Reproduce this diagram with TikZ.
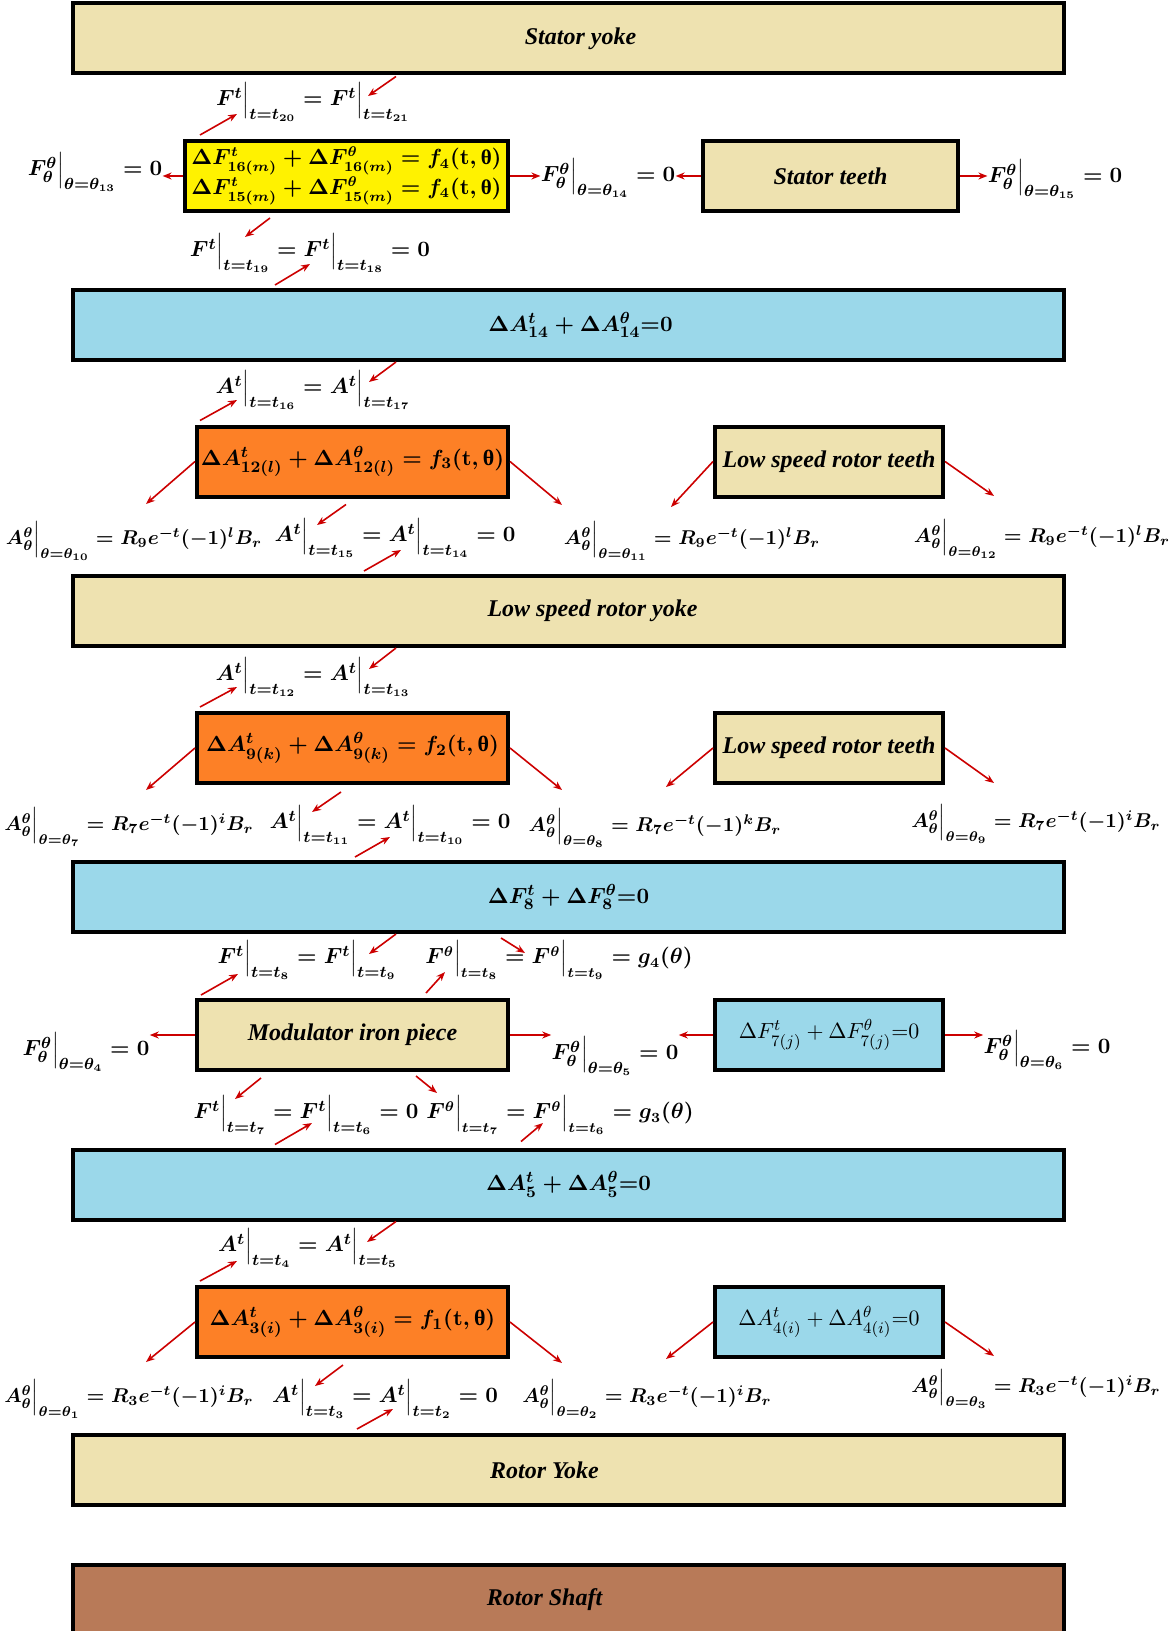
\documentclass[tikz,border=0pt]{standalone}
\usepackage[no-math]{fontspec}
\usepackage{tikz}
\usetikzlibrary{arrows.meta,positioning,calc}
\newfontfamily\libfont{Liberation Serif}
\definecolor{partTan}{HTML}{EEE2B0}
\definecolor{partBlue}{HTML}{9BD8EA}
\definecolor{partOrange}{HTML}{FD8026}
\definecolor{partYellow}{HTML}{FFF200}
\definecolor{partBrown}{HTML}{B87A58}
\definecolor{arrRed}{HTML}{CC0000}
\newcommand{\ev}[2]{{#1}\Bigr|_{#2}}
\newcommand{\upth}{\mbox{\libfont\bfseries θ}}
\newcommand{\eqfont}{\fontsize{11}{13}\selectfont\boldmath}

\begin{document}
\begin{tikzpicture}[x=0.5pt, y=-0.5pt,
      part/.style={draw, line width=2pt, inner sep=0pt, minimum height=35pt,
                   font=\fontsize{12}{14}\selectfont\libfont\bfseries\itshape},
      wide/.style={part, minimum width=495.5pt},
      inbox/.style={part, minimum width=155.5pt},
      sidebox/.style={part, minimum width=114pt},
      eq/.style={inner sep=0pt, font=\eqfont},
      eqr/.style={inner sep=0pt, font=\fontsize{10}{12}\selectfont\boldmath},
      eqg/.style={inner sep=0pt, font=\fontsize{10.5}{12}\selectfont\boldmath},
      arr/.style={-{Stealth[length=4.5pt,width=3.5pt]}, line width=0.8pt, arrRed}
    ]
      \useasboundingbox (0,0) rectangle (1172,1631);

      \node[wide, fill=partTan] (syoke) at (568.5,38.5) {\hspace*{12pt}Stator yoke};
      \node[part, fill=partYellow, minimum width=161.5pt, align=center,
            font=\fontsize{10.5}{13}\selectfont\boldmath] (yel) at (346.5,176) {
        $\Delta F^{t}_{16(m)} + \Delta F^{\theta}_{16(m)} = f_{4}(\mathrm{t},\upth)$\\
        $\Delta F^{t}_{15(m)} + \Delta F^{\theta}_{15(m)} = f_{4}(\mathrm{t},\upth)$
      };
      \node[part, fill=partTan, minimum width=127.5pt] (steeth) at (830.5,176) {Stator teeth};
      \node[wide, fill=partBlue, font=\eqfont] (b14) at (568.5,325) {\hspace*{12pt}$\Delta A^{t}_{14} + \Delta A^{\theta}_{14}{=}0$};
      \node[inbox, fill=partOrange, font=\eqfont] (or3) at (352.5,461.5) {$\Delta A^{t}_{12(l)} + \Delta A^{\theta}_{12(l)} = f_{3}(\mathrm{t},\upth)$};
      \node[sidebox, fill=partTan] (lsrt1) at (829,461.5) {Low speed rotor teeth};
      \node[wide, fill=partTan] (lsry) at (568.5,611) {\hspace*{24pt}Low speed rotor yoke};
      \node[inbox, fill=partOrange, font=\eqfont] (or2) at (352.5,748) {$\Delta A^{t}_{9(k)} + \Delta A^{\theta}_{9(k)} = f_{2}(\mathrm{t},\upth)$};
      \node[sidebox, fill=partTan] (lsrt2) at (829,748) {Low speed rotor teeth};
      \node[wide, fill=partBlue, font=\eqfont] (b8) at (568.5,897) {$\Delta F^{t}_{8} + \Delta F^{\theta}_{8}{=}0$};
      \node[inbox, fill=partTan] (mod) at (352.5,1035) {Modulator iron piece};
      \node[sidebox, fill=partBlue, font=\fontsize{11}{13}\selectfont] (f7) at (829,1035) {$\Delta F^{t}_{7(j)} + \Delta F^{\theta}_{7(j)}{=}0$};
      \node[wide, fill=partBlue, font=\eqfont] (b5) at (568.5,1184.5) {$\Delta A^{t}_{5} + \Delta A^{\theta}_{5}{=}0$};
      \node[inbox, fill=partOrange, font=\eqfont] (or1) at (352.5,1322) {$\Delta A^{t}_{3(i)} + \Delta A^{\theta}_{3(i)} = f_{1}(\mathrm{t},\upth)$};
      \node[sidebox, fill=partBlue, font=\fontsize{11}{13}\selectfont] (a4) at (829,1322) {$\Delta A^{t}_{4(i)} + \Delta A^{\theta}_{4(i)}{=}0$};
      \node[wide, fill=partTan] (ryoke) at (568.5,1470) {Rotor Yoke\hspace*{24pt}};
      \node[wide, fill=partBrown] (shaft) at (568.5,1600) {Rotor Shaft\hspace*{24pt}};

      \node[eq] (l20) at (313,102) {$\ev{F^{t}}{t=t_{20}} = \ev{F^{t}}{t=t_{21}}$};
      \node[eq] (l13) at (95,172) {$\ev{F^{\theta}_{\theta}}{\theta=\theta_{13}} = 0$};
      \node[eq] (l14) at (608,178) {$\ev{F^{\theta}_{\theta}}{\theta=\theta_{14}} = 0$};
      \node[eq] (l15) at (1055,179) {$\ev{F^{\theta}_{\theta}}{\theta=\theta_{15}} = 0$};
      \node[eq] (l19) at (310,253) {$\ev{F^{t}}{t=t_{19}} = \ev{F^{t}}{t=t_{18}} = 0$};

      \node[eq] (l16) at (313,390) {$\ev{A^{t}}{t=t_{16}} = \ev{A^{t}}{t=t_{17}}$};
      \node[eqr] (l10) at (134,541) {$\ev{A^{\theta}_{\theta}}{\theta=\theta_{10}} = R_{9}e^{-t}(-1)^{l}B_{r}$};
      \node[eq] (l14t) at (395,538) {$\ev{A^{t}}{t=t_{15}} = \ev{A^{t}}{t=t_{14}} = 0$};
      \node[eqr] (l11) at (692,541) {$\ev{A^{\theta}_{\theta}}{\theta=\theta_{11}} = R_{9}e^{-t}(-1)^{l}B_{r}$};
      \node[eqr] (l12) at (1042,539) {$\ev{A^{\theta}_{\theta}}{\theta=\theta_{12}} = R_{9}e^{-t}(-1)^{l}B_{r}$};

      \node[eq] (l12t) at (313,677) {$\ev{A^{t}}{t=t_{12}} = \ev{A^{t}}{t=t_{13}}$};
      \node[eqr] (l7) at (129,827) {$\ev{A^{\theta}_{\theta}}{\theta=\theta_{7}} = R_{7}e^{-t}(-1)^{i}B_{r}$};
      \node[eq] (l10t) at (390,825) {$\ev{A^{t}}{t=t_{11}} = \ev{A^{t}}{t=t_{10}} = 0$};
      \node[eqr] (l8) at (655,828) {$\ev{A^{\theta}_{\theta}}{\theta=\theta_{8}} = R_{7}e^{-t}(-1)^{k}B_{r}$};
      \node[eqr] (l9) at (1036,824) {$\ev{A^{\theta}_{\theta}}{\theta=\theta_{9}} = R_{7}e^{-t}(-1)^{i}B_{r}$};

      \node[eq] (l8t) at (307,960) {$\ev{F^{t}}{t=t_{8}} = \ev{F^{t}}{t=t_{9}}$};
      \node[eqg] (l8g) at (559,960) {$\ev{F^{\theta}}{t=t_{8}} = \ev{F^{\theta}}{t=t_{9}} = g_{4}(\theta)$};
      \node[eq] (l4) at (86,1052) {$\ev{F^{\theta}_{\theta}}{\theta=\theta_{4}} = 0$};
      \node[eq] (l5) at (615,1056) {$\ev{F^{\theta}_{\theta}}{\theta=\theta_{5}} = 0$};
      \node[eq] (l6) at (1047,1050) {$\ev{F^{\theta}_{\theta}}{\theta=\theta_{6}} = 0$};
      \node[eq] (l6t) at (306,1115) {$\ev{F^{t}}{t=t_{7}} = \ev{F^{t}}{t=t_{6}} = 0$};
      \node[eqg] (l6g) at (560,1115) {$\ev{F^{\theta}}{t=t_{7}} = \ev{F^{\theta}}{t=t_{6}} = g_{3}(\theta)$};

      \node[eq] (l4t) at (308,1248) {$\ev{A^{t}}{t=t_{4}} = \ev{A^{t}}{t=t_{5}}$};
      \node[eqr] (l1) at (129,1399) {$\ev{A^{\theta}_{\theta}}{\theta=\theta_{1}} = R_{3}e^{-t}(-1)^{i}B_{r}$};
      \node[eq] (l2t) at (385,1399) {$\ev{A^{t}}{t=t_{3}} = \ev{A^{t}}{t=t_{2}} = 0$};
      \node[eqr] (l2) at (647,1399) {$\ev{A^{\theta}_{\theta}}{\theta=\theta_{2}} = R_{3}e^{-t}(-1)^{i}B_{r}$};
      \node[eqr] (l3) at (1036,1389) {$\ev{A^{\theta}_{\theta}}{\theta=\theta_{3}} = R_{3}e^{-t}(-1)^{i}B_{r}$};

      \draw[arr] ($(syoke.south west)+(325,1)$) -- ($(l20.center)+(55,-6)$);
      \draw[arr] ($(yel.north west)+(17,-4)$) -- ($(l20.center)+(-76,12)$);
      \draw[arr] (yel.west) -- (yel.west -| l13.east);
      \draw[arr] (yel.east) -- (yel.east -| l14.west);
      \draw[arr] (steeth.west) -- (steeth.west -| l14.east);
      \draw[arr] (steeth.east) -- (steeth.east -| l15.west);
      \draw[arr] ($(yel.south west)+(87,5)$) -- ($(l19.center)+(-65,-16)$);
      \draw[arr] ($(b14.north west)+(204,-3)$) -- ($(l19.center)+(0,11)$);

      \draw[arr] ($(b14.south west)+(325,0)$) -- ($(l16.center)+(56,-8)$);
      \draw[arr] ($(or3.north west)+(5,-4)$) -- ($(l16.center)+(-76,10)$);
      \draw[arr] (or3.west) -- ($(l10.center)+(12,-37)$);
      \draw[arr] (or3.east) -- ($(l11.center)+(-130,-36)$);
      \draw[arr] ($(or3.south west)+(151,6)$) -- ($(l14t.center)+(-78,-13)$);
      \draw[arr] ($(lsry.north west)+(293,-3)$) -- ($(l14t.center)+(6,12)$);
      \draw[arr] (lsrt1.west) -- ($(l11.center)+(-21,-34)$);
      \draw[arr] (lsrt1.east) -- ($(l12.center)+(-48,-43)$);

      \draw[arr] ($(lsry.south west)+(325,0)$) -- ($(l12t.center)+(56,-8)$);
      \draw[arr] ($(or2.north west)+(5,-4)$) -- ($(l12t.center)+(-76,10)$);
      \draw[arr] (or2.west) -- ($(l7.center)+(17,-37)$);
      \draw[arr] (or2.east) -- ($(l8.center)+(-93,-38)$);
      \draw[arr] ($(or2.south west)+(146,7)$) -- ($(l10t.center)+(-78,-13)$);
      \draw[arr] ($(b8.north west)+(284,-3)$) -- ($(l10t.center)+(0,12)$);
      \draw[arr] (lsrt2.west) -- ($(l8.center)+(11,-41)$);
      \draw[arr] (lsrt2.east) -- ($(l9.center)+(-42,-41)$);

      \draw[arr] ($(b8.south west)+(325,0)$) -- ($(l8t.center)+(62,-6)$);
      \draw[arr] ($(b8.south west)+(430,4)$) -- ($(l8g.center)+(-34,-7)$);
      \draw[arr] ($(mod.north west)+(6,-3)$) -- ($(l8t.center)+(-69,14)$);
      \draw[arr] ($(mod.north west)+(231,-5)$) -- ($(l8g.center)+(-114,12)$);
      \draw[arr] (mod.west) -- (mod.west -| l4.east);
      \draw[arr] (mod.east) -- (mod.east -| l5.west);
      \draw[arr] (f7.west) -- (f7.west -| l5.east);
      \draw[arr] (f7.east) -- (f7.east -| l6.west);
      \draw[arr] ($(mod.south west)+(66,6)$) -- ($(l6t.center)+(-71,-16)$);
      \draw[arr] ($(mod.south west)+(221,4)$) -- ($(l6g.center)+(-123,-22)$);
      \draw[arr] ($(b5.north west)+(204,-3)$) -- ($(l6t.center)+(6,8)$);
      \draw[arr] ($(b5.north west)+(450,-6)$) -- ($(l6g.center)+(-17,8)$);

      \draw[arr] ($(b5.south west)+(325,0)$) -- ($(l4t.center)+(59,-6)$);
      \draw[arr] ($(or1.north west)+(5,-4)$) -- ($(l4t.center)+(-71,13)$);
      \draw[arr] (or1.west) -- ($(l1.center)+(17,-37)$);
      \draw[arr] (or1.east) -- ($(l2.center)+(-85,-36)$);
      \draw[arr] ($(or1.south west)+(148,6)$) -- ($(l2t.center)+(-70,-13)$);
      \draw[arr] ($(ryoke.north west)+(286,-4)$) -- ($(l2t.center)+(8,10)$);
      \draw[arr] (a4.west) -- ($(l2.center)+(19,-40)$);
      \draw[arr] (a4.east) -- ($(l3.center)+(-42,-33)$);
    \end{tikzpicture}
\end{document}
